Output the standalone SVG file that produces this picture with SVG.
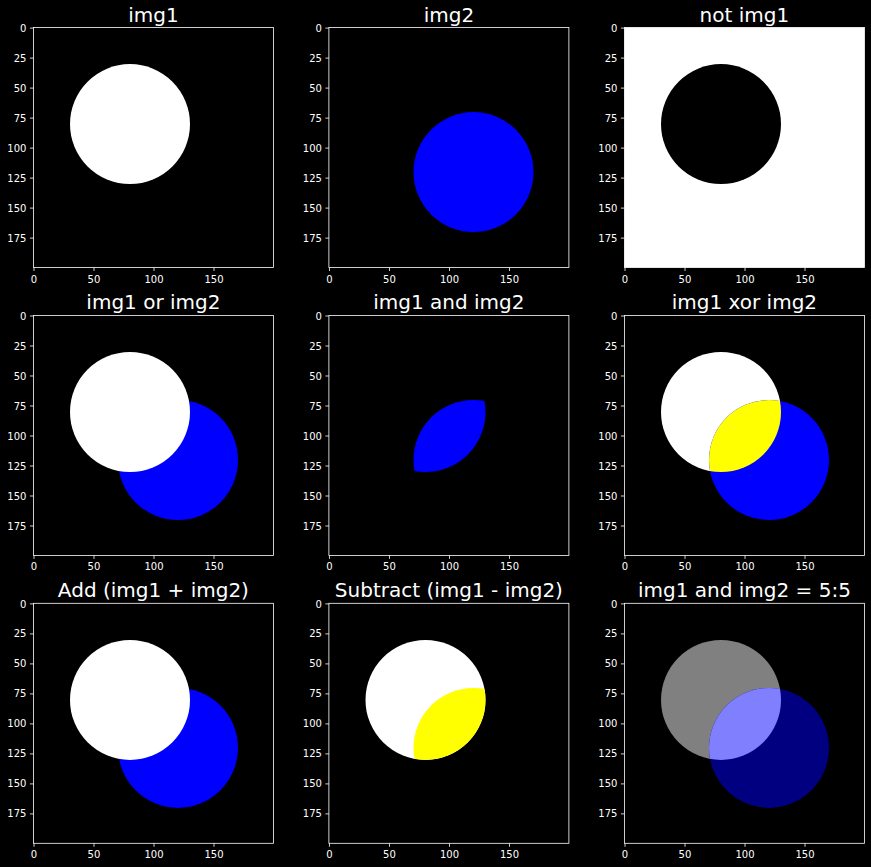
<svg xmlns="http://www.w3.org/2000/svg" xmlns:xlink="http://www.w3.org/1999/xlink" width="871" height="867" viewBox="0 0 871 867">
<style>
text{font-family:"DejaVu Sans","Liberation Sans",sans-serif;fill:#ffffff}
.yl{font-size:10px;text-anchor:end}
.xl{font-size:10px;text-anchor:middle}
.title{font-size:20px;text-anchor:middle}
.spine{fill:none;stroke:#ffffff;stroke-width:0.8}
.tick{fill:none;stroke:#ffffff;stroke-width:0.8}
</style>
<defs>
<circle id="c1" cx="80" cy="80" r="50"/>
<circle id="c2" cx="120" cy="120" r="50"/>
<clipPath id="clip1"><circle cx="80" cy="80" r="50"/></clipPath>
<path id="tk" class="tick" d="M-3.5,0.6H0M-3.5,30.6H0M-3.5,60.6H0M-3.5,90.6H0M-3.5,120.6H0M-3.5,150.6H0M-3.5,180.6H0M-3.5,210.6H0M0.6,240V243.5M60.6,240V243.5M120.6,240V243.5M180.6,240V243.5"/>
</defs>
<rect x="0" y="0" width="871" height="867" fill="#000000"/>

<g id="p1" transform="translate(33.4,27.5)">
<text class="title" x="120" y="-6">img1</text>
<g transform="translate(0.6,0.6) scale(1.2)"><use xlink:href="#c1" fill="#ffffff"/></g>
<rect class="spine" x="0" y="0" width="240" height="240"/><use xlink:href="#tk"/>
<text class="yl" x="-7" y="4.2">0</text><text class="yl" x="-7" y="34.2">25</text><text class="yl" x="-7" y="64.2">50</text><text class="yl" x="-7" y="94.2">75</text><text class="yl" x="-7" y="124.2">100</text><text class="yl" x="-7" y="154.2">125</text><text class="yl" x="-7" y="184.2">150</text><text class="yl" x="-7" y="214.2">175</text>
<text class="xl" x="0.6" y="255">0</text><text class="xl" x="60.6" y="255">50</text><text class="xl" x="120.6" y="255">100</text><text class="xl" x="180.6" y="255">150</text>
</g>

<g id="p2" transform="translate(328.9,27.5)">
<text class="title" x="120" y="-6">img2</text>
<g transform="translate(0.6,0.6) scale(1.2)"><use xlink:href="#c2" fill="#0000ff"/></g>
<rect class="spine" x="0" y="0" width="240" height="240"/><use xlink:href="#tk"/>
<text class="yl" x="-7" y="4.2">0</text><text class="yl" x="-7" y="34.2">25</text><text class="yl" x="-7" y="64.2">50</text><text class="yl" x="-7" y="94.2">75</text><text class="yl" x="-7" y="124.2">100</text><text class="yl" x="-7" y="154.2">125</text><text class="yl" x="-7" y="184.2">150</text><text class="yl" x="-7" y="214.2">175</text>
<text class="xl" x="0.6" y="255">0</text><text class="xl" x="60.6" y="255">50</text><text class="xl" x="120.6" y="255">100</text><text class="xl" x="180.6" y="255">150</text>
</g>

<g id="p3" transform="translate(624.4,27.5)">
<text class="title" x="120" y="-6">not img1</text>
<rect x="0" y="0" width="240" height="240" fill="#ffffff"/>
<g transform="translate(0.6,0.6) scale(1.2)"><use xlink:href="#c1" fill="#000000"/></g>
<rect class="spine" x="0" y="0" width="240" height="240"/><use xlink:href="#tk"/>
<text class="yl" x="-7" y="4.2">0</text><text class="yl" x="-7" y="34.2">25</text><text class="yl" x="-7" y="64.2">50</text><text class="yl" x="-7" y="94.2">75</text><text class="yl" x="-7" y="124.2">100</text><text class="yl" x="-7" y="154.2">125</text><text class="yl" x="-7" y="184.2">150</text><text class="yl" x="-7" y="214.2">175</text>
<text class="xl" x="0.6" y="255">0</text><text class="xl" x="60.6" y="255">50</text><text class="xl" x="120.6" y="255">100</text><text class="xl" x="180.6" y="255">150</text>
</g>

<g id="p4" transform="translate(33.4,315.4)">
<text class="title" x="120" y="-6">img1 or img2</text>
<g transform="translate(0.6,0.6) scale(1.2)"><use xlink:href="#c2" fill="#0000ff"/><use xlink:href="#c1" fill="#ffffff"/></g>
<rect class="spine" x="0" y="0" width="240" height="240"/><use xlink:href="#tk"/>
<text class="yl" x="-7" y="4.2">0</text><text class="yl" x="-7" y="34.2">25</text><text class="yl" x="-7" y="64.2">50</text><text class="yl" x="-7" y="94.2">75</text><text class="yl" x="-7" y="124.2">100</text><text class="yl" x="-7" y="154.2">125</text><text class="yl" x="-7" y="184.2">150</text><text class="yl" x="-7" y="214.2">175</text>
<text class="xl" x="0.6" y="255">0</text><text class="xl" x="60.6" y="255">50</text><text class="xl" x="120.6" y="255">100</text><text class="xl" x="180.6" y="255">150</text>
</g>

<g id="p5" transform="translate(328.9,315.4)">
<text class="title" x="120" y="-6">img1 and img2</text>
<g transform="translate(0.6,0.6) scale(1.2)"><use xlink:href="#c2" fill="#0000ff" clip-path="url(#clip1)"/></g>
<rect class="spine" x="0" y="0" width="240" height="240"/><use xlink:href="#tk"/>
<text class="yl" x="-7" y="4.2">0</text><text class="yl" x="-7" y="34.2">25</text><text class="yl" x="-7" y="64.2">50</text><text class="yl" x="-7" y="94.2">75</text><text class="yl" x="-7" y="124.2">100</text><text class="yl" x="-7" y="154.2">125</text><text class="yl" x="-7" y="184.2">150</text><text class="yl" x="-7" y="214.2">175</text>
<text class="xl" x="0.6" y="255">0</text><text class="xl" x="60.6" y="255">50</text><text class="xl" x="120.6" y="255">100</text><text class="xl" x="180.6" y="255">150</text>
</g>

<g id="p6" transform="translate(624.4,315.4)">
<text class="title" x="120" y="-6">img1 xor img2</text>
<g transform="translate(0.6,0.6) scale(1.2)"><use xlink:href="#c1" fill="#ffffff"/><use xlink:href="#c2" fill="#0000ff"/><use xlink:href="#c2" fill="#ffff00" clip-path="url(#clip1)"/></g>
<rect class="spine" x="0" y="0" width="240" height="240"/><use xlink:href="#tk"/>
<text class="yl" x="-7" y="4.2">0</text><text class="yl" x="-7" y="34.2">25</text><text class="yl" x="-7" y="64.2">50</text><text class="yl" x="-7" y="94.2">75</text><text class="yl" x="-7" y="124.2">100</text><text class="yl" x="-7" y="154.2">125</text><text class="yl" x="-7" y="184.2">150</text><text class="yl" x="-7" y="214.2">175</text>
<text class="xl" x="0.6" y="255">0</text><text class="xl" x="60.6" y="255">50</text><text class="xl" x="120.6" y="255">100</text><text class="xl" x="180.6" y="255">150</text>
</g>

<g id="p7" transform="translate(33.4,603.3)">
<text class="title" x="120" y="-6">Add (img1 + img2)</text>
<g transform="translate(0.6,0.6) scale(1.2)"><use xlink:href="#c2" fill="#0000ff"/><use xlink:href="#c1" fill="#ffffff"/></g>
<rect class="spine" x="0" y="0" width="240" height="240"/><use xlink:href="#tk"/>
<text class="yl" x="-7" y="4.2">0</text><text class="yl" x="-7" y="34.2">25</text><text class="yl" x="-7" y="64.2">50</text><text class="yl" x="-7" y="94.2">75</text><text class="yl" x="-7" y="124.2">100</text><text class="yl" x="-7" y="154.2">125</text><text class="yl" x="-7" y="184.2">150</text><text class="yl" x="-7" y="214.2">175</text>
<text class="xl" x="0.6" y="255">0</text><text class="xl" x="60.6" y="255">50</text><text class="xl" x="120.6" y="255">100</text><text class="xl" x="180.6" y="255">150</text>
</g>

<g id="p8" transform="translate(328.9,603.3)">
<text class="title" x="120" y="-6">Subtract (img1 - img2)</text>
<g transform="translate(0.6,0.6) scale(1.2)"><use xlink:href="#c1" fill="#ffffff"/><use xlink:href="#c2" fill="#ffff00" clip-path="url(#clip1)"/></g>
<rect class="spine" x="0" y="0" width="240" height="240"/><use xlink:href="#tk"/>
<text class="yl" x="-7" y="4.2">0</text><text class="yl" x="-7" y="34.2">25</text><text class="yl" x="-7" y="64.2">50</text><text class="yl" x="-7" y="94.2">75</text><text class="yl" x="-7" y="124.2">100</text><text class="yl" x="-7" y="154.2">125</text><text class="yl" x="-7" y="184.2">150</text><text class="yl" x="-7" y="214.2">175</text>
<text class="xl" x="0.6" y="255">0</text><text class="xl" x="60.6" y="255">50</text><text class="xl" x="120.6" y="255">100</text><text class="xl" x="180.6" y="255">150</text>
</g>

<g id="p9" transform="translate(624.4,603.3)">
<text class="title" x="120" y="-6">img1 and img2 = 5:5</text>
<g transform="translate(0.6,0.6) scale(1.2)"><use xlink:href="#c1" fill="#808080"/><use xlink:href="#c2" fill="#000080"/><use xlink:href="#c2" fill="#8080ff" clip-path="url(#clip1)"/></g>
<rect class="spine" x="0" y="0" width="240" height="240"/><use xlink:href="#tk"/>
<text class="yl" x="-7" y="4.2">0</text><text class="yl" x="-7" y="34.2">25</text><text class="yl" x="-7" y="64.2">50</text><text class="yl" x="-7" y="94.2">75</text><text class="yl" x="-7" y="124.2">100</text><text class="yl" x="-7" y="154.2">125</text><text class="yl" x="-7" y="184.2">150</text><text class="yl" x="-7" y="214.2">175</text>
<text class="xl" x="0.6" y="255">0</text><text class="xl" x="60.6" y="255">50</text><text class="xl" x="120.6" y="255">100</text><text class="xl" x="180.6" y="255">150</text>
</g>
</svg>
